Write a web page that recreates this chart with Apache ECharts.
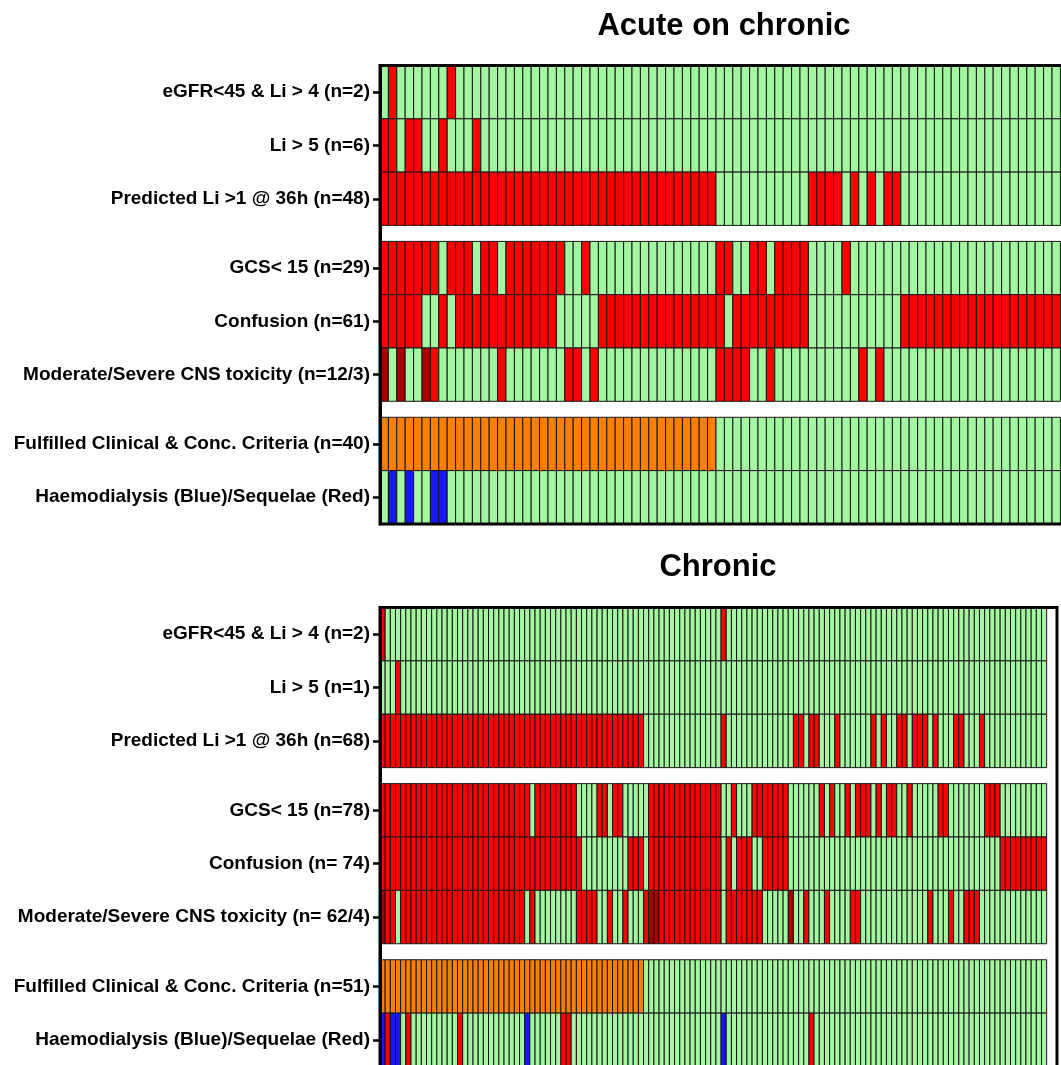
<!DOCTYPE html>
<html>
<head>
<meta charset="utf-8">
<script src="https://cdn.jsdelivr.net/npm/echarts@6/dist/echarts.min.js"></script>
<style>
  html, body { margin: 0; padding: 0; background: #ffffff; }
  #chart { width: 1061px; height: 1065px; }
</style>
</head>
<body>
<div id="chart"></div>
<script>
// Row labels, top to bottom
const acuteLabels = [
  'eGFR<45 & Li > 4 (n=2)',
  'Li > 5 (n=6)',
  'Predicted Li >1 @ 36h (n=48)',
  'GCS< 15 (n=29)',
  'Confusion (n=61)',
  'Moderate/Severe CNS toxicity (n=12/3)',
  'Fulfilled Clinical & Conc. Criteria (n=40)',
  'Haemodialysis (Blue)/Sequelae (Red)'
];
const chronicLabels = [
  'eGFR<45 & Li > 4 (n=2)',
  'Li > 5 (n=1)',
  'Predicted Li >1 @ 36h (n=68)',
  'GCS< 15 (n=78)',
  'Confusion (n= 74)',
  'Moderate/Severe CNS toxicity (n= 62/4)',
  'Fulfilled Clinical & Conc. Criteria (n=51)',
  'Haemodialysis (Blue)/Sequelae (Red)'
];

// Acute on chronic: patient columns (0-based) that are positive for each criterion
const acutePatients = 81;
const acuteEgfr = [1, 8];
const acuteLi5 = [0, 1, 3, 4, 7, 11];
const acutePredicted = [0, 1, 2, 3, 4, 5, 6, 7, 8, 9, 10, 11, 12, 13, 14, 15, 16, 17, 18, 19,
  20, 21, 22, 23, 24, 25, 26, 27, 28, 29, 30, 31, 32, 33, 34, 35, 36, 37, 38, 39,
  51, 52, 53, 54, 56, 58, 60, 61];
const acuteGcs = [0, 1, 2, 3, 4, 5, 6, 8, 9, 10, 12, 13, 15, 16, 17, 18, 19, 20, 21, 24,
  40, 41, 44, 45, 47, 48, 49, 50, 55];
const acuteConfusion = [0, 1, 2, 3, 4, 7, 9, 10, 11, 12, 13, 14, 15, 16, 17, 18, 19, 20,
  26, 27, 28, 29, 30, 31, 32, 33, 34, 35, 36, 37, 38, 39, 40,
  42, 43, 44, 45, 46, 47, 48, 49, 50,
  62, 63, 64, 65, 66, 67, 68, 69, 70, 71, 72, 73, 74, 75, 76, 77, 78, 79, 80];
const acuteCnsModerate = [6, 14, 22, 23, 25, 40, 41, 42, 43, 46, 57, 59];
const acuteCnsSevere = [0, 2, 5];
const acuteCriteria = [0, 1, 2, 3, 4, 5, 6, 7, 8, 9, 10, 11, 12, 13, 14, 15, 16, 17, 18, 19,
  20, 21, 22, 23, 24, 25, 26, 27, 28, 29, 30, 31, 32, 33, 34, 35, 36, 37, 38, 39];
const acuteDialysis = [1, 3, 6, 7];
const acuteSequelae = [];

// Chronic: patient columns (0-based) that are positive for each criterion
const chronicPatients = 129;
const chronicEgfr = [0, 66];
const chronicLi5 = [3];
const chronicPredicted = [0, 1, 2, 3, 4, 5, 6, 7, 8, 9, 10, 11, 12, 13, 14, 15, 16, 17, 18, 19,
  20, 21, 22, 23, 24, 25, 26, 27, 28, 29, 30, 31, 32, 33, 34, 35, 36, 37, 38, 39,
  40, 41, 42, 43, 44, 45, 46, 47, 48, 49, 50,
  66, 80, 81, 83, 84, 88, 95, 97, 100, 101, 103, 104, 105, 107, 111, 112, 116];
const chronicGcs = [0, 1, 2, 3, 4, 5, 6, 7, 8, 9, 10, 11, 12, 13, 14, 15, 16, 17, 18, 19,
  20, 21, 22, 23, 24, 25, 26, 27, 28, 30, 31, 32, 33, 34, 35, 36, 37,
  42, 43, 45, 46, 52, 53, 54, 55, 56, 57, 58, 59, 60, 61, 62, 63, 64, 65,
  68, 72, 73, 74, 75, 76, 77, 78, 85, 87, 90, 92, 93, 94, 96, 98, 99, 102,
  108, 109, 117, 118, 119];
const chronicConfusion = [0, 1, 2, 3, 4, 5, 6, 7, 8, 9, 10, 11, 12, 13, 14, 15, 16, 17, 18, 19,
  20, 21, 22, 23, 24, 25, 26, 27, 28, 29, 30, 31, 32, 33, 34, 35, 36, 37, 38,
  48, 49, 50, 52, 53, 54, 55, 56, 57, 58, 59, 60, 61, 62, 63, 64, 65,
  67, 69, 70, 71, 74, 75, 76, 77, 78,
  120, 121, 122, 123, 124, 125, 126, 127, 128];
const chronicCnsModerate = [1, 2, 4, 5, 6, 7, 8, 9, 10, 11, 12, 13, 14, 15, 16, 17, 18, 19,
  20, 21, 22, 23, 24, 25, 26, 27, 29, 38, 39, 40, 41, 44, 47, 51,
  54, 55, 56, 57, 58, 59, 60, 61, 62, 63, 64, 65,
  67, 68, 69, 70, 71, 72, 73, 82, 86, 91, 92, 106, 110, 113, 114, 115];
const chronicCnsSevere = [0, 52, 53, 79];
const chronicCriteria = [0, 1, 2, 3, 4, 5, 6, 7, 8, 9, 10, 11, 12, 13, 14, 15, 16, 17, 18, 19,
  20, 21, 22, 23, 24, 25, 26, 27, 28, 29, 30, 31, 32, 33, 34, 35, 36, 37, 38, 39,
  40, 41, 42, 43, 44, 45, 46, 47, 48, 49, 50];
const chronicDialysis = [0, 2, 3, 28, 66];
const chronicSequelae = [1, 5, 15, 35, 36, 83];

// Cell colour codes
const NEG = 0, POS = 1, SEVERE = 2, CRITERIA = 3, DIALYSIS = 4;
const palette = ['#a4f6a0', '#ff0000', '#a80000', '#ff8000', '#1616ff'];

// Each row is a list of [patient columns, colour code] layers (later layers win)
const acuteRows = [
  [[acuteEgfr, POS]],
  [[acuteLi5, POS]],
  [[acutePredicted, POS]],
  [[acuteGcs, POS]],
  [[acuteConfusion, POS]],
  [[acuteCnsModerate, POS], [acuteCnsSevere, SEVERE]],
  [[acuteCriteria, CRITERIA]],
  [[acuteDialysis, DIALYSIS], [acuteSequelae, POS]]
];
const chronicRows = [
  [[chronicEgfr, POS]],
  [[chronicLi5, POS]],
  [[chronicPredicted, POS]],
  [[chronicGcs, POS]],
  [[chronicConfusion, POS]],
  [[chronicCnsModerate, POS], [chronicCnsSevere, SEVERE]],
  [[chronicCriteria, CRITERIA]],
  [[chronicDialysis, DIALYSIS], [chronicSequelae, POS]]
];

// Rows come in three groups (3, 3, 2) separated by a small gap
const GROUP_GAP = 0.3;
function rowTop(r) {
  const g = r < 3 ? 0 : (r < 6 ? 1 : 2);
  return r + g * GROUP_GAP;
}
const rowCount = 8;
const yMax = rowCount + 2 * GROUP_GAP;
const rowCentres = [];
for (let r = 0; r < rowCount; r++) rowCentres.push(rowTop(r) + 0.5);

function buildCells(patients, rows) {
  const cells = [];
  rows.forEach((layers, r) => {
    for (let c = 0; c < patients; c++) {
      let code = NEG;
      layers.forEach(([cols, k]) => { if (cols.indexOf(c) >= 0) code = k; });
      cells.push([c, r, code]);
    }
  });
  return cells;
}

const FONT = "'Liberation Sans', Arial, Helvetica, sans-serif";

function yAxisFor(gridIndex, labels) {
  return {
    gridIndex: gridIndex,
    type: 'value',
    inverse: true,
    min: 0,
    max: yMax,
    splitLine: { show: false },
    axisLine: { show: true, lineStyle: { color: '#000', width: 3 } },
    axisTick: { show: true, customValues: rowCentres, length: 7, lineStyle: { color: '#000', width: 2.5 } },
    axisLabel: {
      customValues: rowCentres,
      margin: 10,
      color: '#000',
      fontFamily: FONT,
      fontWeight: 'bold',
      fontSize: 19,
      formatter: function (v) {
        for (let i = 0; i < rowCentres.length; i++) {
          if (Math.abs(rowCentres[i] - v) < 1e-6) return labels[i];
        }
        return '';
      }
    }
  };
}

function cellSeries(gridIndex, cells) {
  return {
    type: 'custom',
    xAxisIndex: gridIndex,
    yAxisIndex: gridIndex,
    z: -1,
    silent: true,
    animation: false,
    data: cells,
    renderItem: function (params, api) {
      const c = api.value(0), r = api.value(1), k = api.value(2);
      const top = rowTop(r);
      const a = api.coord([c, top]);
      const b = api.coord([c + 1, top + 1]);
      return {
        type: 'rect',
        shape: { x: a[0], y: a[1], width: b[0] - a[0], height: b[1] - a[1] },
        style: { fill: palette[k], stroke: '#161616', lineWidth: 1 }
      };
    }
  };
}

const chart = echarts.init(document.getElementById('chart'), null, { renderer: 'canvas' });
chart.setOption({
  backgroundColor: '#ffffff',
  animation: false,
  title: [
    { text: 'Acute on chronic', left: 724, top: 11, textAlign: 'center', padding: 0,
      textStyle: { fontFamily: FONT, fontWeight: 'bold', fontSize: 31, color: '#000' } },
    { text: 'Chronic', left: 718, top: 552, textAlign: 'center', padding: 0,
      textStyle: { fontFamily: FONT, fontWeight: 'bold', fontSize: 31, color: '#000' } }
  ],
  grid: [
    { left: 380, top: 65.5, width: 688.8, height: 458.4, outerBoundsMode: 'none', containLabel: false,
      show: true, borderColor: '#000', borderWidth: 3, backgroundColor: 'transparent' },
    { left: 380, top: 607.5, width: 677, height: 459, outerBoundsMode: 'none', containLabel: false,
      show: true, borderColor: '#000', borderWidth: 3, backgroundColor: 'transparent' }
  ],
  xAxis: [
    { gridIndex: 0, type: 'value', min: 0, max: 82, show: false },
    { gridIndex: 1, type: 'value', min: 0, max: 131, show: false }
  ],
  yAxis: [yAxisFor(0, acuteLabels), yAxisFor(1, chronicLabels)],
  series: [
    cellSeries(0, buildCells(acutePatients, acuteRows)),
    cellSeries(1, buildCells(chronicPatients, chronicRows))
  ]
});
</script>
</body>
</html>
